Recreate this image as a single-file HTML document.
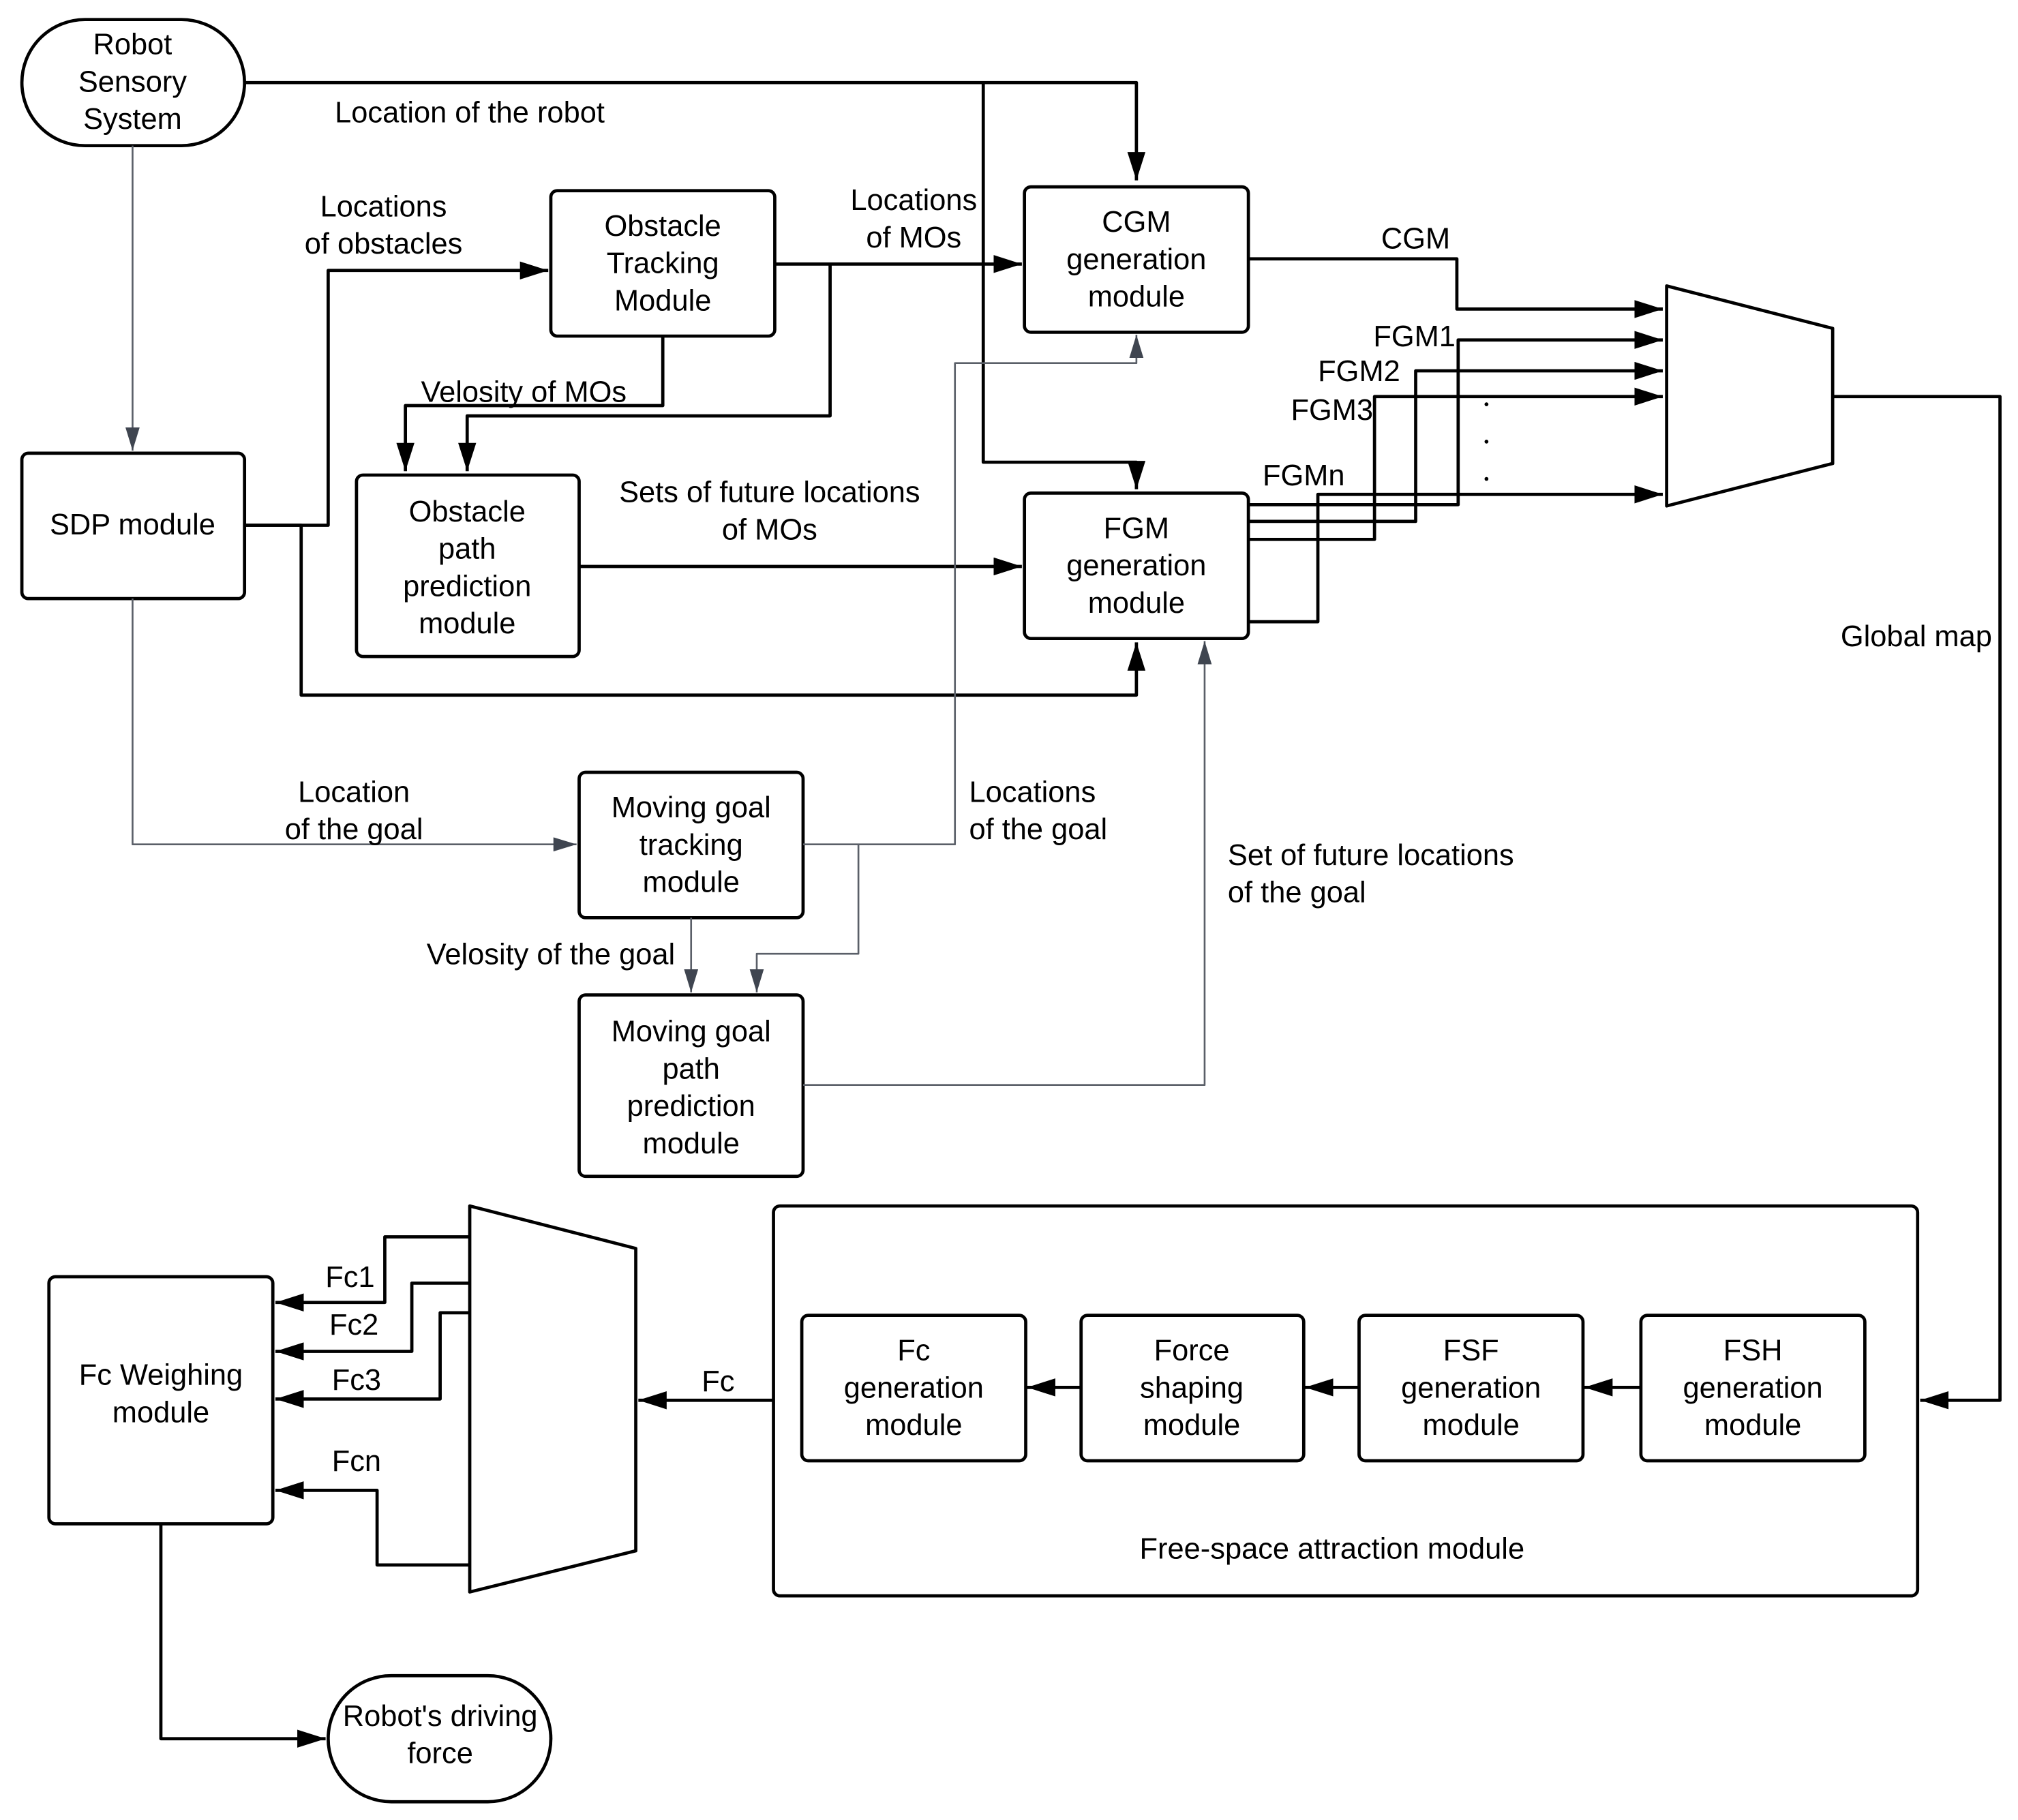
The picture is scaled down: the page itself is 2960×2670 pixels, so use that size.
<!DOCTYPE html>
<html><head><meta charset="utf-8"><style>
html,body{margin:0;padding:0;background:#fff;}
svg{display:block;}
text{font-family:"Liberation Sans",sans-serif;font-size:23px;fill:#000;text-anchor:middle;}
</style></head><body>
<svg width="2960" height="2670" viewBox="0 0 1568 1414" xmlns="http://www.w3.org/2000/svg">
<defs>
<marker id="ab" viewBox="0 0 10 10" refX="10" refY="5" markerWidth="22" markerHeight="14" markerUnits="userSpaceOnUse" orient="auto" preserveAspectRatio="none"><path d="M0,0L10,5L0,10z" fill="#000"/></marker>
<marker id="g" viewBox="0 0 10 10" refX="10" refY="5" markerWidth="18" markerHeight="11" markerUnits="userSpaceOnUse" orient="auto" preserveAspectRatio="none"><path d="M0,0L10,5L0,10z" fill="#3f4550"/></marker>
</defs>
<rect width="1568" height="1414" fill="#fff"/>
<g fill="none" stroke="#000" stroke-width="2.5" stroke-linejoin="round">
<rect x="17" y="15" width="173" height="98" rx="49" ry="49"/>
<rect x="17" y="352" width="173" height="113" rx="5"/>
<rect x="428" y="148" width="174" height="113" rx="5"/>
<rect x="277" y="369" width="173" height="141" rx="5"/>
<rect x="796" y="145" width="174" height="113" rx="5"/>
<rect x="796" y="383" width="174" height="113" rx="5"/>
<path d="M1295,222 L1424,255 L1424,360 L1295,393 Z"/>
<rect x="450" y="600" width="174" height="113" rx="5"/>
<rect x="450" y="773" width="174" height="141" rx="5"/>
<rect x="601" y="937" width="889" height="303" rx="5"/>
<rect x="623" y="1022" width="174" height="113" rx="5"/>
<rect x="840" y="1022" width="173" height="113" rx="5"/>
<rect x="1056" y="1022" width="174" height="113" rx="5"/>
<rect x="1275" y="1022" width="174" height="113" rx="5"/>
<path d="M365,937 L494,970 L494,1205 L365,1237 Z"/>
<rect x="38" y="992" width="174" height="192" rx="5"/>
<rect x="255" y="1302" width="173" height="98" rx="49" ry="49"/>
</g>
<g fill="none" stroke="#000" stroke-width="2.5" stroke-linejoin="round">
<path d="M190,64 H883 V140" marker-end="url(#ab)"/>
<path d="M764,64 V359 H883 V380" marker-end="url(#ab)"/>
<path d="M190,408 H255 V210 H426" marker-end="url(#ab)"/>
<path d="M190,408 H234 V540 H883 V499" marker-end="url(#ab)"/>
<path d="M602,205 H794" marker-end="url(#ab)"/>
<path d="M645,205 V323 H363 V366" marker-end="url(#ab)"/>
<path d="M515,261 V315 H315 V366" marker-end="url(#ab)"/>
<path d="M450,440 H794" marker-end="url(#ab)"/>
<path d="M970,201 H1132 V240 H1292" marker-end="url(#ab)"/>
<path d="M970,392 H1133 V264 H1292" marker-end="url(#ab)"/>
<path d="M970,405 H1100 V288 H1292" marker-end="url(#ab)"/>
<path d="M970,419 H1068 V308 H1292" marker-end="url(#ab)"/>
<path d="M970,483 H1024 V384 H1292" marker-end="url(#ab)"/>
<path d="M1424,308 H1554 V1088 H1492" marker-end="url(#ab)"/>
<path d="M1275,1078 H1231" marker-end="url(#ab)"/>
<path d="M1056,1078 H1014" marker-end="url(#ab)"/>
<path d="M840,1078 H798" marker-end="url(#ab)"/>
<path d="M601,1088 H496" marker-end="url(#ab)"/>
<path d="M365,961 H299 V1012 H214" marker-end="url(#ab)"/>
<path d="M365,997 H320 V1050 H214" marker-end="url(#ab)"/>
<path d="M365,1020 H342 V1087 H214" marker-end="url(#ab)"/>
<path d="M365,1216 H293 V1158 H214" marker-end="url(#ab)"/>
<path d="M125,1184 V1351 H253" marker-end="url(#ab)"/>
</g>
<g fill="none" stroke="#5a5f68" stroke-width="1.4" stroke-linejoin="round">
<path d="M103,113 V350" marker-end="url(#g)"/>
<path d="M103,465 V656 H448" marker-end="url(#g)"/>
<path d="M624,656 H742 V282 H883 V260" marker-end="url(#g)"/>
<path d="M667,656 V741 H588 V771" marker-end="url(#g)"/>
<path d="M537,713 V771" marker-end="url(#g)"/>
<path d="M624,843 H936 V498" marker-end="url(#g)"/>
</g>
<g fill="#000"><circle cx="1155" cy="314" r="1.5"/><circle cx="1155" cy="343" r="1.5"/><circle cx="1155" cy="372" r="1.5"/></g>
<text x="103" y="42">Robot</text><text x="103" y="71">Sensory</text><text x="103" y="100">System</text>
<text x="103" y="415">SDP module</text>
<text x="515" y="183">Obstacle</text><text x="515" y="212">Tracking</text><text x="515" y="241">Module</text>
<text x="363" y="405">Obstacle</text><text x="363" y="434">path</text><text x="363" y="463">prediction</text><text x="363" y="492">module</text>
<text x="883" y="180">CGM</text><text x="883" y="209">generation</text><text x="883" y="238">module</text>
<text x="883" y="418">FGM</text><text x="883" y="447">generation</text><text x="883" y="476">module</text>
<text x="537" y="635">Moving goal</text><text x="537" y="664">tracking</text><text x="537" y="693">module</text>
<text x="537" y="809">Moving goal</text><text x="537" y="838">path</text><text x="537" y="867">prediction</text><text x="537" y="896">module</text>
<text x="710" y="1057">Fc</text><text x="710" y="1086">generation</text><text x="710" y="1115">module</text>
<text x="926" y="1057">Force</text><text x="926" y="1086">shaping</text><text x="926" y="1115">module</text>
<text x="1143" y="1057">FSF</text><text x="1143" y="1086">generation</text><text x="1143" y="1115">module</text>
<text x="1362" y="1057">FSH</text><text x="1362" y="1086">generation</text><text x="1362" y="1115">module</text>
<text x="1035" y="1211">Free-space attraction module</text>
<text x="125" y="1076">Fc Weighing</text><text x="125" y="1105">module</text>
<text x="342" y="1341">Robot's driving</text><text x="342" y="1370">force</text>
<text x="365" y="95">Location of the robot</text>
<text x="298" y="168">Locations</text><text x="298" y="197">of obstacles</text>
<text x="710" y="163">Locations</text><text x="710" y="192">of MOs</text>
<text x="407" y="312">Velosity of MOs</text>
<text x="598" y="390">Sets of future locations</text><text x="598" y="419">of MOs</text>
<text x="1100" y="193">CGM</text>
<text x="1099" y="269">FGM1</text>
<text x="1056" y="296">FGM2</text>
<text x="1035" y="326">FGM3</text>
<text x="1013" y="377">FGMn</text>
<text x="1489" y="502">Global map</text>
<text x="275" y="623">Location</text><text x="275" y="652">of the goal</text>
<text x="753" y="623" style="text-anchor:start">Locations</text><text x="753" y="652" style="text-anchor:start">of the goal</text>
<text x="954" y="672" style="text-anchor:start">Set of future locations</text><text x="954" y="701" style="text-anchor:start">of the goal</text>
<text x="428" y="749">Velosity of the goal</text>
<text x="558" y="1081">Fc</text>
<text x="272" y="1000">Fc1</text>
<text x="275" y="1037">Fc2</text>
<text x="277" y="1080">Fc3</text>
<text x="277" y="1143">Fcn</text>
</svg>
</body></html>
